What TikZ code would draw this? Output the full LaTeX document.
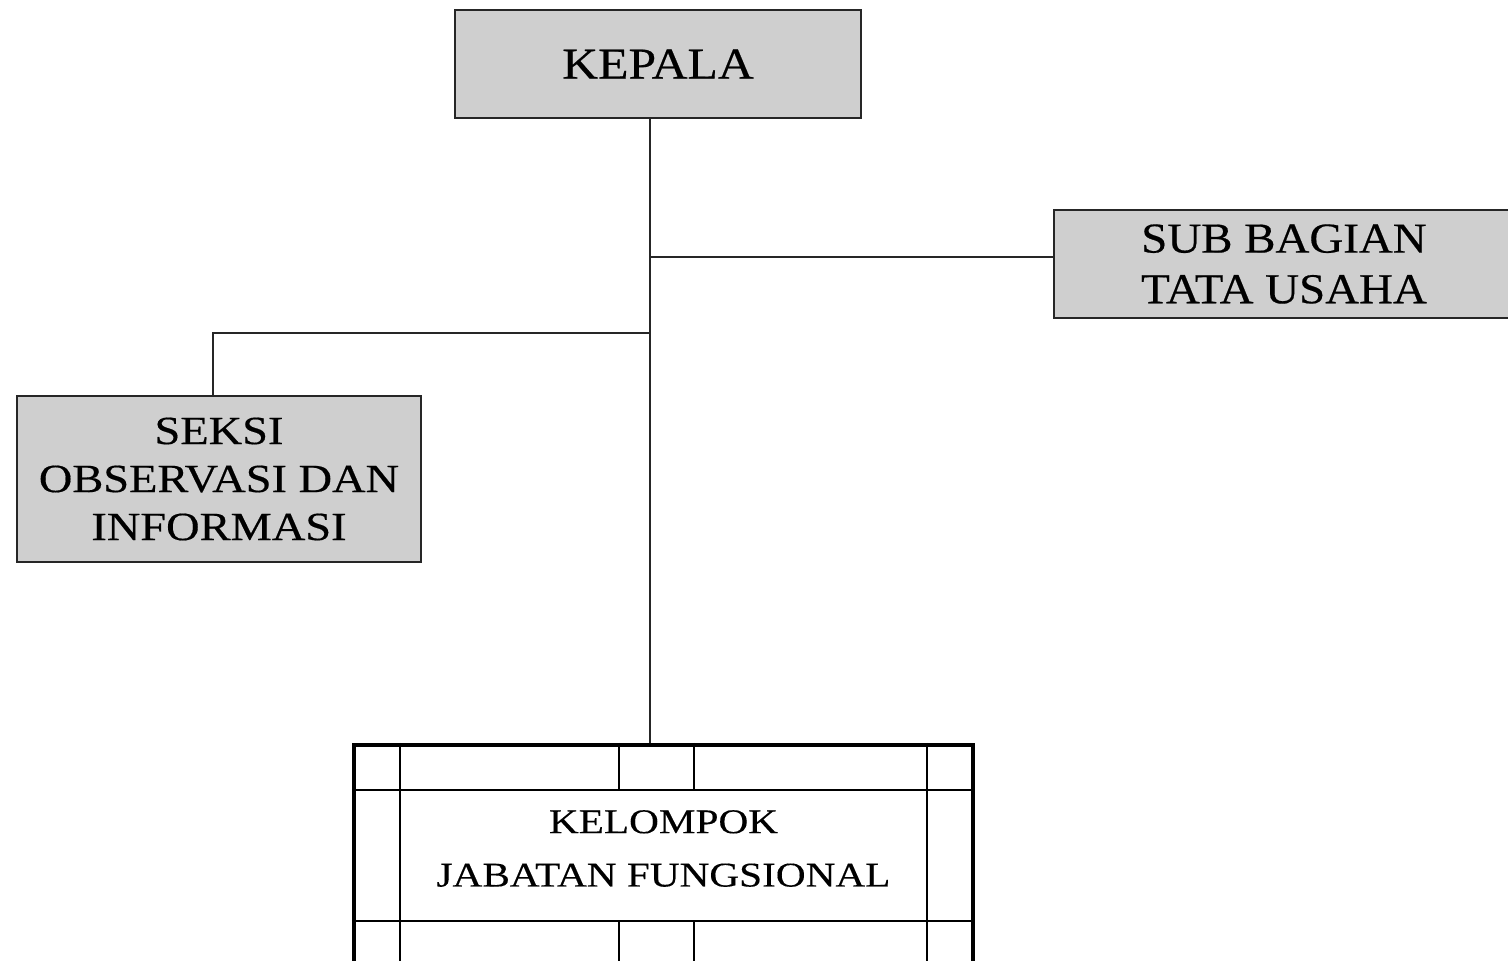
\documentclass[tikz,border=0pt]{standalone}
\usepackage{fontspec}
\setmainfont[FakeStretch=1.1,FakeBold=0.4]{Liberation Serif}
\newfontfamily\widea[FakeStretch=1.13,FakeBold=0.4]{Liberation Serif}
\newfontfamily\wideb[FakeStretch=1.16,FakeBold=0.4]{Liberation Serif}
\newfontfamily\widec[FakeStretch=1.19,FakeBold=0.3]{Liberation Serif}
\begin{document}
\begin{tikzpicture}[x=0.75pt,y=-0.75pt,
  box/.style={draw=black!85,line width=1.3pt,fill=black!19,rectangle,align=center,inner sep=0pt},
  conn/.style={draw=black!85,line width=1.3pt},
  grid/.style={draw=black,line width=2pt},
  outerbox/.style={draw=black,line width=3.2pt,rectangle,inner sep=0pt}]
\useasboundingbox (0,0) rectangle (1508,960);
\clip (0,0) rectangle (1508,960);
\node[box,minimum width=304.5pt,minimum height=81pt,font=\widea\fontsize{33}{38}\selectfont] (kepala) at (658,64) {KEPALA};
\node[box,minimum width=345pt,minimum height=81pt,font=\fontsize{32}{38}\selectfont] (sub) at (1284,264) {SUB BAGIAN\\TATA USAHA};
\node[box,minimum width=303pt,minimum height=124.5pt,font=\wideb\fontsize{30}{36}\selectfont] (seksi) at (219,479) {SEKSI\\OBSERVASI DAN\\INFORMASI};
\node[outerbox,minimum width=464.25pt,minimum height=191.25pt] (outer) at (663.5,872.5) {};
\node[font=\widec\fontsize{26}{40}\selectfont,align=center] (kjf) at (663.5,848.5) {KELOMPOK\\JABATAN FUNGSIONAL};
\coordinate (t) at (650,0);
\coordinate (j1) at (650,257);
\coordinate (j2) at (650,333);
\coordinate (s) at (213,0);
% inner grid of bottom box
\coordinate (h1) at (0,790);
\coordinate (h2) at (0,921);
\coordinate (v1) at (400,0);
\coordinate (v2) at (927,0);
\coordinate (v3) at (619,0);
\coordinate (v4) at (694,0);
\draw[grid] (outer.west |- h1) -- (outer.east |- h1);
\draw[grid] (outer.west |- h2) -- (outer.east |- h2);
\draw[grid] (v1 |- outer.north) -- (v1 |- outer.south);
\draw[grid] (v2 |- outer.north) -- (v2 |- outer.south);
\draw[grid] (v3 |- outer.north) -- (v3 |- h1);
\draw[grid] (v4 |- outer.north) -- (v4 |- h1);
\draw[grid] (v3 |- h2) -- (v3 |- outer.south);
\draw[grid] (v4 |- h2) -- (v4 |- outer.south);
% connectors
\draw[conn] (t |- kepala.south) -- (t |- outer.north);
\draw[conn] (j1) -- (j1 -| sub.west);
\draw[conn] (j2) -| (s |- seksi.north);
\end{tikzpicture}
\end{document}
